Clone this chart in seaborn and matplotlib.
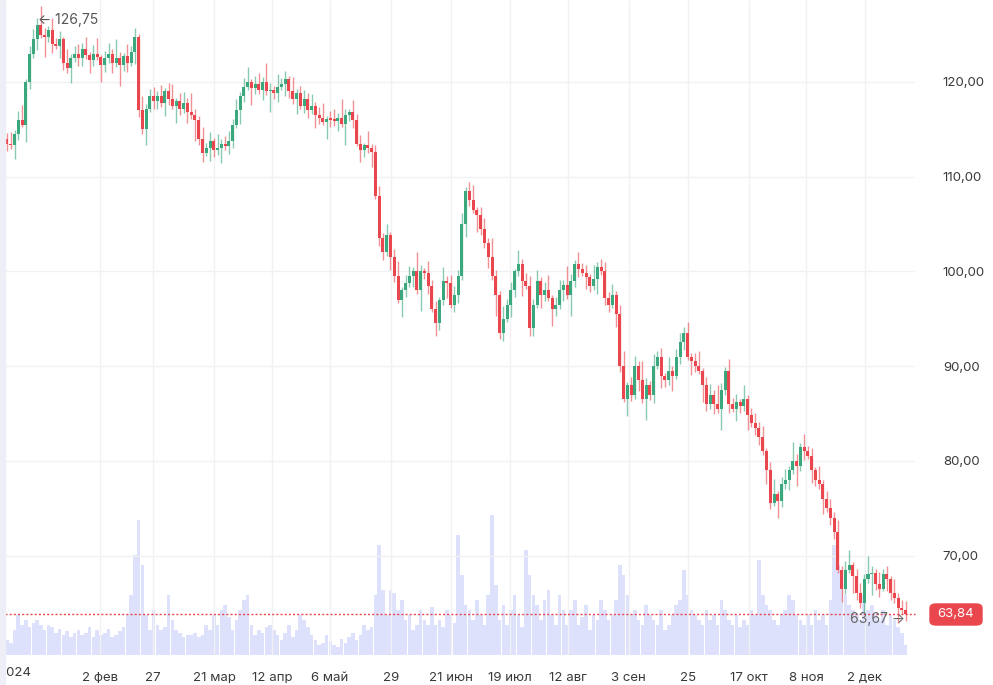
import numpy as np
import pandas as pd
import matplotlib
matplotlib.use("Agg")
import matplotlib.pyplot as plt
import seaborn as sns
from matplotlib.patches import FancyBboxPatch, Rectangle

closes = [
 113.5, 113.3, 114.5, 116, 115.5, 120, 123, 124.5, 126, 125,
 124.8, 125.5, 124, 123.8, 124.5, 122, 121.5, 122.5, 123, 122.5,
 123.5, 122.8, 122.3, 123, 122.6, 121.8, 122.5, 123, 122, 122.5,
 121.8, 122.7, 122, 123.2, 124.8, 117, 115, 117.2, 118.5, 118,
 118.5, 117.8, 119, 118.2, 117.5, 118, 117.2, 117.8, 116.8, 116.5,
 116, 114, 112.5, 113, 113.8, 112.8, 113, 113.5, 113.2, 113.8,
 115.5, 117, 118.5, 119.5, 120, 119.4, 119.8, 119.2, 120, 119,
 119.2, 118.8, 119.5, 119.8, 120.3, 119, 118.2, 118.8, 117.5, 118.2,
 117, 117.5, 116.5, 116.2, 115.8, 116.1, 116, 115.9, 116.2, 115.6,
 116.5, 116.8, 116, 113.5, 112.8, 113.3, 113, 112.6, 108, 103.5,
 102, 103.8, 101.5, 99.5, 97, 98, 98.8, 99.5, 100, 98,
 100, 99.8, 98.5, 96, 94.5, 97, 99, 98.8, 96.5, 97.5,
 99.5, 105, 108.5, 107.5, 106.5, 106, 104.5, 103, 101.5, 99.5,
 97.5, 93.5, 95, 96.5, 98, 100, 100.8, 99, 98.5, 94,
 96.5, 99, 97.5, 98, 97.2, 96, 96.5, 98, 98.6, 97.5,
 99, 100.8, 100.3, 99.8, 99.4, 98.5, 99.2, 100.5, 100, 97.2,
 96.5, 97.5, 95.5, 90, 86.5, 88, 87, 90, 88.5, 86.5,
 88, 87, 90, 91, 89, 88.5, 89.5, 89, 91, 92.5,
 93.5, 91, 90.5, 90, 89.5, 88, 86, 87, 86, 85.5,
 87.5, 89.5, 86, 85.5, 86.2, 85.8, 86.5, 84.8, 84, 83.5,
 82.5, 81, 79, 75.5, 76.5, 75.8, 77.5, 78, 79, 80,
 79.5, 81.5, 81, 80.5, 79, 78, 77.5, 76, 75, 74,
 72.5, 68.5, 66.5, 68.5, 69, 67.8, 66, 65, 67.5, 68,
 68.2, 67, 66.5, 68, 67.5, 66, 65.5, 64.5, 64.2, 63.84,
]
first_open = 114.0
wick_up = [0.6, 1.2, 0.4, 0.9, 1.6, 0.3, 0.8, 1.1, 0.5, 2.0, 0.7, 0.4, 1.3, 0.6, 0.9, 0.3, 1.5, 0.5, 0.8, 1.0]
wick_dn = [0.8, 0.4, 1.4, 0.6, 0.3, 1.8, 0.7, 0.5, 1.1, 0.4, 2.2, 0.6, 0.9, 0.3, 1.3, 0.7, 0.5, 1.6, 0.4, 0.8]
volumes = [
 15, 12, 25, 40, 30, 35, 28, 32, 35, 30,
 25, 30, 28, 22, 26, 20, 24, 18, 22, 25,
 20, 22, 28, 18, 25, 20, 22, 26, 18, 20,
 24, 28, 40, 60, 100, 135, 90, 40, 25, 45,
 30, 25, 28, 60, 35, 25, 22, 18, 20, 20,
 22, 18, 20, 30, 25, 40, 30, 45, 50, 38,
 25, 35, 45, 55, 60, 30, 20, 25, 22, 28,
 30, 25, 20, 15, 22, 30, 18, 25, 40, 35,
 28, 20, 15, 10, 12, 20, 14, 10, 8, 16,
 12, 18, 22, 15, 20, 30, 25, 28, 60, 110,
 65, 40, 65, 62, 45, 55, 35, 40, 25, 30,
 45, 35, 30, 48, 30, 35, 28, 45, 40, 32,
 120, 80, 50, 45, 35, 55, 40, 30, 60, 140,
 70, 35, 50, 30, 45, 60, 40, 28, 105, 80,
 60, 50, 35, 55, 65, 40, 30, 60, 45, 30,
 45, 55, 30, 38, 50, 25, 40, 35, 55, 45,
 35, 40, 55, 90, 80, 60, 40, 45, 35, 30,
 50, 40, 35, 30, 45, 25, 30, 40, 50, 55,
 85, 60, 45, 40, 35, 30, 45, 35, 40, 30,
 55, 45, 35, 30, 40, 28, 35, 30, 45, 40,
 95, 60, 50, 45, 35, 30, 40, 45, 60, 55,
 40, 35, 30, 40, 30, 45, 35, 40, 30, 55,
 110, 90, 75, 60, 50, 45, 40, 35, 60, 45,
 50, 40, 35, 45, 30, 40, 35, 28, 22, 10,
]
date_labels = ["2 фев", "27", "21 мар", "12 апр", "6 май", "29", "21 июн", "19 июл",
               "12 авг", "3 сен", "25", "17 окт", "8 ноя", "2 дек"]
date_idx = [24.7, 38.8, 55.1, 70.5, 85.9, 102.1, 118.1, 133.8, 149.2, 165.4, 181.1, 197.3, 212.5, 228.2]
price_ticks = [70, 80, 90, 100, 110, 120]
last_price = 63.84
low_price = 63.67
high_price = 126.75
high_idx = 8

sns.set_theme(style="white")
plt.rcParams['font.family'] = ['Inter', 'DejaVu Sans']

df = pd.DataFrame({"close": closes, "volume": volumes})
df["open"] = [first_open] + closes[:-1]
n = len(df)
df["idx"] = np.arange(n)
up = np.array([wick_up[i % len(wick_up)] for i in range(n)])
dn = np.array([wick_dn[i % len(wick_dn)] for i in range(n)])
df["high"] = np.maximum(df.open, df.close) + up
df["low"] = np.minimum(df.open, df.close) - dn
df.loc[high_idx, "high"] = high_price
green, red = "#3ba77c", "#e9474d"
df["color"] = np.where(df.close >= df.open, green, red)

fig = plt.figure(figsize=(9.93, 6.85), dpi=100)
ax = fig.add_axes([5/993, 1-655/685, 910/993, 655/685])
axv = ax.twinx()
ax.set_zorder(axv.get_zorder() + 1)
ax.patch.set_visible(False)

axv.bar(df.idx, df.volume, width=0.95, color="#dde1fb", linewidth=0)
axv.set_ylim(0, 655)
axv.set_yticks([])
for s in axv.spines.values():
    s.set_visible(False)

ax.vlines(df.idx, df.low, df.high, colors=df.color, linewidth=1.0, alpha=0.6)
ax.bar(df.idx, (df.close - df.open).abs().clip(lower=0.15), bottom=np.minimum(df.open, df.close),
       width=0.8, color=df.color, linewidth=0)

ax.set_xlim(-0.53, 241.5)
ax.set_ylim(120 - 573/9.47, 120 + 82/9.47)
for s in ax.spines.values():
    s.set_visible(False)
ax.yaxis.tick_right()
ax.set_yticks(price_ticks)
ax.set_yticklabels([f"{v},00" for v in price_ticks], fontsize=9.5, color="#3a3a3a")
ax.tick_params(axis="y", length=0, pad=20)
ax.set_xticks(date_idx)
ax.set_xticklabels(date_labels, fontsize=9.5, color="#3a3a3a")
ax.tick_params(axis="x", length=0, pad=12)
ax.grid(True, color="#f1f1f4", linewidth=1)
ax.set_axisbelow(True)

fig.text(31/993, 1-673/685, "2024", ha="right", va="center", fontsize=9.5, color="#3a3a3a")
fig.add_artist(Rectangle((0, 0), 5/993, 1, transform=fig.transFigure, color="#eeeff6", zorder=10))

ax.axhline(last_price, color=red, linestyle=(0, (1.5, 1.5)), linewidth=1, clip_on=False)
ax.annotate("← 126,75", xy=(high_idx + 0.3, high_price - 0.2), fontsize=10, color="#555",
            ha="left", va="center")
ax.annotate("63,67 →", xy=(n - 1.2, low_price - 0.4), fontsize=10, color="#666", ha="right", va="center")
lx, ly = 930/993, 1-625/685
fig.patches.append(FancyBboxPatch((lx, ly), 52/993, 21/685, boxstyle="round,pad=0,rounding_size=0.006",
                                  transform=fig.transFigure, color=red, zorder=5))
fig.text(956/993, 1-614/685, "63,84", color="white", ha="center", va="center", fontsize=9.5, zorder=6)

fig.savefig("out.png", dpi=100)
